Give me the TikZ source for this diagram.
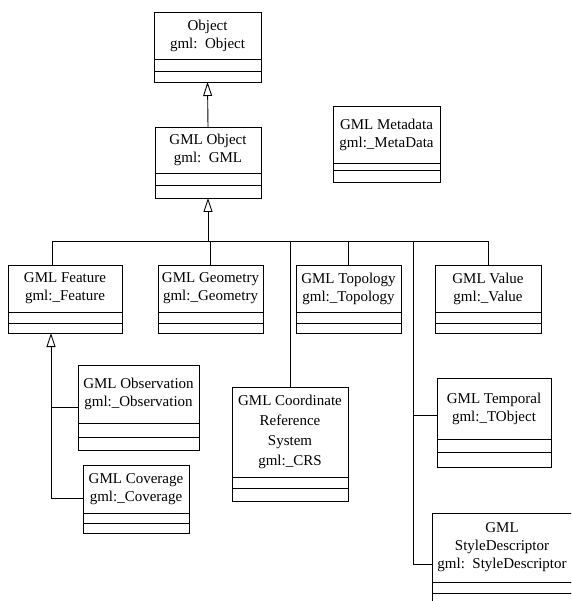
\documentclass[tikz,border=0pt]{standalone}
\usepackage{fontspec}
\setmainfont{Liberation Serif}
\usetikzlibrary{arrows.meta}
\tikzset{>={Triangle[open,length=14pt,width=9pt]}}
\tikzset{ clsname/.style={draw,line width=0.9pt,inner sep=0pt,outer sep=0pt,align=center,anchor=north west,font=\fontsize{15}{18}\selectfont},
  clspart/.style={draw,line width=0.9pt,inner sep=0pt,outer sep=0pt,anchor=north},
  link/.style={line width=0.9pt} }
% class box: name, left, top, width, name height, attribute height, operation height, text
\newcommand{\umlclass}[8]{%
  \node[clsname,minimum width=#4pt,minimum height=#5pt] (#1) at (#2,#3) {#8};
  \node[clspart,minimum width=#4pt,minimum height=#6pt] (#1-a) at (#1.south) {};
  \node[clspart,minimum width=#4pt,minimum height=#7pt] (#1-o) at (#1-a.south) {};}

\begin{document}
\begin{tikzpicture}[x=1pt,y=-1pt]
  \useasboundingbox (0,0) rectangle (571,601);
  \clip (0,0) rectangle (571,601);
  % classes
  \umlclass{obj}{154}{12}{107}{47}{12}{11}{Object\\gml:\ \ Object}
  \umlclass{gmlobj}{155}{127}{106}{46}{12}{13}{GML Object\\gml:\ \ GML}
  \umlclass{meta}{333}{106}{107}{57}{7}{12}{GML Metadata\\gml:\_MetaData}
  \umlclass{feat}{8}{265}{114}{47}{11}{10}{GML Feature\\gml:\_Feature}
  \umlclass{geom}{158}{265}{105}{47}{11}{10}{GML Geometry\\gml:\_Geometry}
  \umlclass{topo}{296}{265}{105}{47}{11}{10}{GML Topology\\gml:\_Topology}
  \umlclass{value}{435}{265}{106}{47}{11}{10}{GML Value\\gml:\_Value}
  \umlclass{obs}{78}{365}{121}{58}{14}{13}{GML Observation\\gml:\_Observation}
  \umlclass{cov}{83}{465}{106}{48}{10}{10}{GML Coverage\\gml:\_Coverage}
  \umlclass{crs}{232}{387}{116}{90}{11}{13}{GML Coordinate\\[2pt]Reference\\[2pt]System\\[2pt]gml:\_CRS}
  \umlclass{temp}{437}{378}{114}{61}{13}{15}{GML Temporal\\gml:\_TObject}
  \umlclass{style}{432}{513}{140}{69}{11}{12}{GML\\StyleDescriptor\\gml:\ \ StyleDescriptor}
  % generalization
  \draw[link,->] (gmlobj.north) -- (obj-o.south);
  \coordinate (bus) at (gmlobj-o.south |- 0,241);
  \draw[link,->] (bus) -- (gmlobj-o.south);
  \draw[link] ([xshift=-13pt]feat.north |- bus) -- (value.north |- bus);
  \draw[link] ([xshift=-13pt]feat.north) -- ([xshift=-13pt]feat.north |- bus);
  \foreach \c in {geom,topo,value,crs}
    \draw[link] (\c.north) -- (\c.north |- bus);
  % temporal and style branch
  \coordinate (tap) at (413,241);
  \coordinate (tstub) at ([yshift=-7pt]temp.west);
  \draw[link] (tap) |- ([yshift=-17pt]style.west);
  \draw[link] (tstub) -- (tstub -| tap);
  % feature subclasses
  \coordinate (ftop) at ([xshift=-14pt]feat-o.south);
  \coordinate (ostub) at ([yshift=-13pt]obs.west);
  \draw[link,->] ([yshift=-9pt]cov.west) -| (ftop);
  \draw[link] (ostub) -- (ostub -| ftop);
\end{tikzpicture}
\end{document}
